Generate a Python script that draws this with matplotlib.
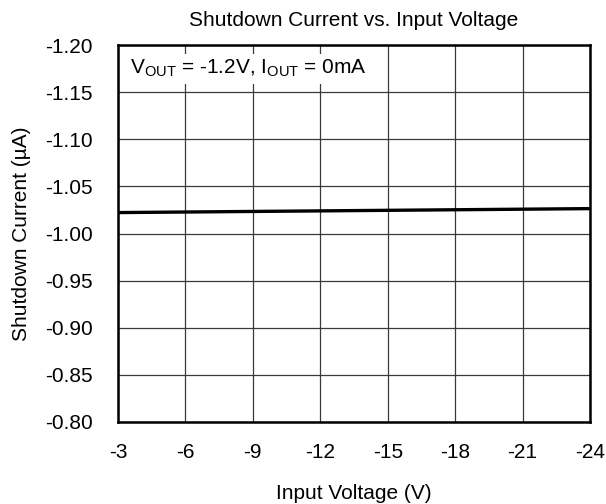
import matplotlib
matplotlib.use("Agg")
import matplotlib.pyplot as plt

plt.rcParams["font.family"] = ["Liberation Sans", "DejaVu Sans"]
plt.rcParams["mathtext.fontset"] = "custom"
plt.rcParams["mathtext.rm"] = "Liberation Sans"
plt.rcParams["mathtext.it"] = "Liberation Sans:italic"

# Measured shutdown current over input voltage
input_voltage = [-3, -6, -9, -12, -15, -18, -21, -24]
shutdown_current = [-1.0222, -1.0228, -1.0234, -1.0240, -1.0246, -1.0252, -1.0258, -1.0264]

x_ticks = [-3, -6, -9, -12, -15, -18, -21, -24]
y_ticks = [-1.20, -1.15, -1.10, -1.05, -1.00, -0.95, -0.90, -0.85, -0.80]

fig = plt.figure(figsize=(6.06, 5.04), dpi=100)
ax = fig.add_axes([0.1947, 0.1627, 0.7789, 0.748])

ax.plot(input_voltage, shutdown_current, color="black", linewidth=2.4, zorder=3)

ax.set_xlim(-3, -24)
ax.set_ylim(-0.80, -1.20)
ax.set_xticks(x_ticks)
ax.set_xticklabels([str(v) for v in x_ticks])
ax.set_yticks(y_ticks)
ax.set_yticklabels([f"{v:.2f}" for v in y_ticks])
ax.tick_params(length=0, labelsize=15, colors="black")
ax.tick_params(axis="x", pad=15)
ax.tick_params(axis="y", pad=18)

ax.grid(True, color="#3a3a3a", linewidth=0.9)
ax.set_axisbelow(True)
for s in ax.spines.values():
    s.set_linewidth(1.8)
    s.set_color("black")
    s.set_zorder(4)

ax.set_title("Shutdown Current vs. Input Voltage", fontsize=15, pad=14)
ax.set_xlabel("Input Voltage (V)", fontsize=15, labelpad=16)
ax.set_ylabel("Shutdown Current (\u00b5A)", fontsize=15, labelpad=10)

ax.text(0.025, 0.923, r"V$_{\mathrm{OUT}}$ = -1.2V, I$_{\mathrm{OUT}}$ = 0mA",
        transform=ax.transAxes, fontsize=15, va="baseline", ha="left", zorder=5,
        bbox=dict(facecolor="white", edgecolor="none", pad=3))

fig.savefig("out.png", dpi=100)
